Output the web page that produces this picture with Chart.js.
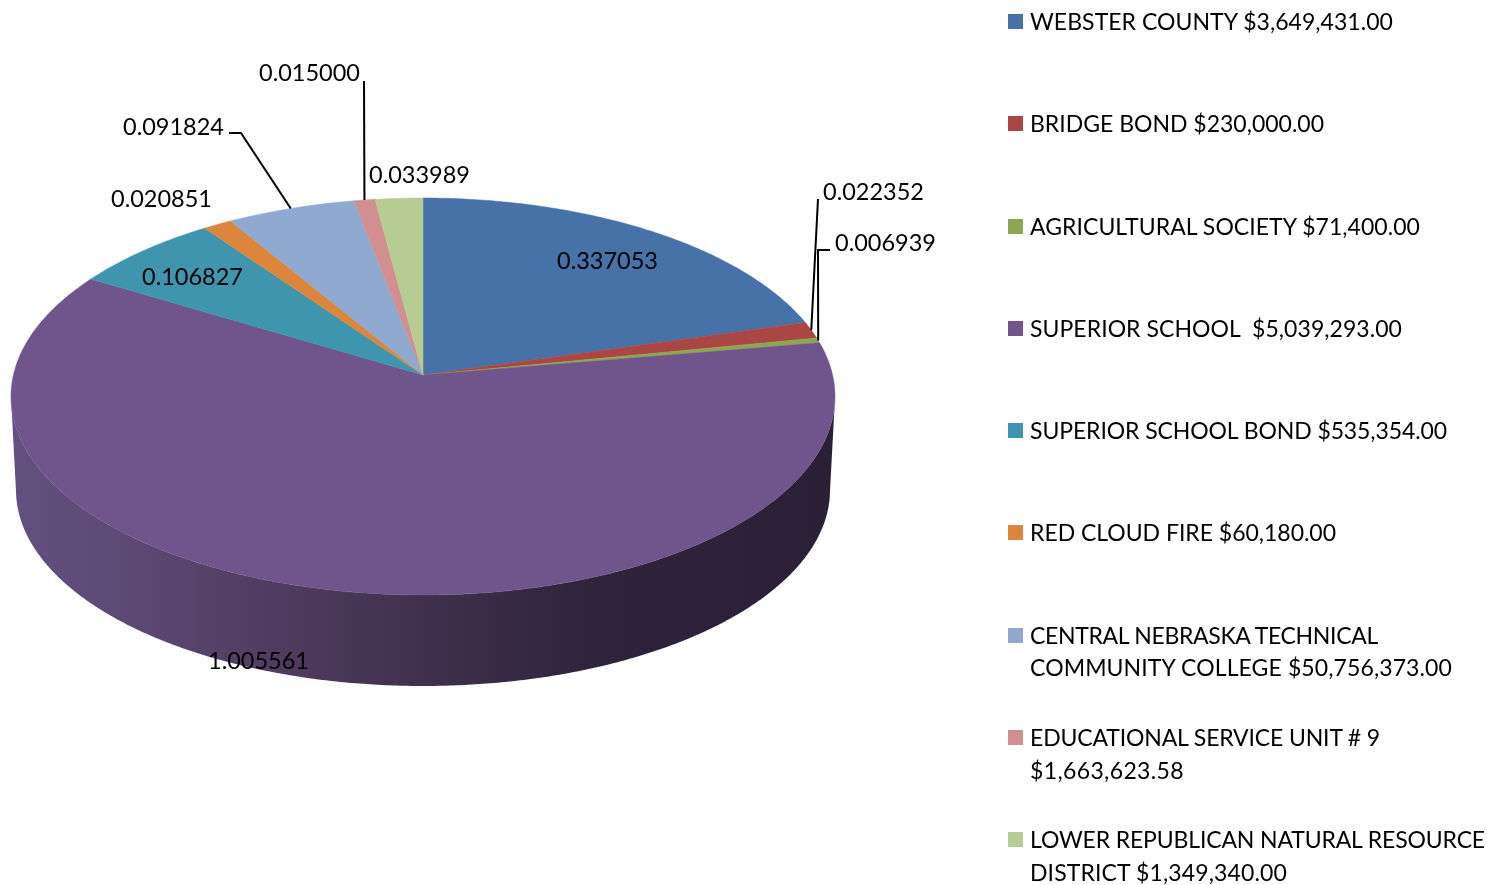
<!DOCTYPE html>
<html>
<head>
<meta charset="utf-8">
<script src="https://cdn.jsdelivr.net/npm/chart.js@4/dist/chart.umd.js"></script>
<style>
html,body{margin:0;padding:0;background:#fff;overflow:hidden}
#wrap{position:relative;width:1487px;height:885px}
canvas{position:absolute;left:0;top:0}
.key{position:absolute;left:1008px;width:15px;height:15px}
.txt{position:absolute;left:1030px;white-space:pre;font:23px Lato,sans-serif;color:#000;line-height:32px}
</style>
</head>
<body>
<div id="wrap"><canvas id="c" width="1487" height="885"></canvas><div id="legend"></div></div>
<script>
// ---- data ----
const categories = [
  ["WEBSTER COUNTY $3,649,431.00"],
  ["BRIDGE BOND $230,000.00"],
  ["AGRICULTURAL SOCIETY $71,400.00"],
  ["SUPERIOR SCHOOL  $5,039,293.00"],
  ["SUPERIOR SCHOOL BOND $535,354.00"],
  ["RED CLOUD FIRE $60,180.00"],
  ["CENTRAL NEBRASKA TECHNICAL","COMMUNITY COLLEGE $50,756,373.00"],
  ["EDUCATIONAL SERVICE UNIT # 9","$1,663,623.58"],
  ["LOWER REPUBLICAN NATURAL RESOURCE","DISTRICT $1,349,340.00"]
];
const values = [0.337053,0.022352,0.006939,1.005561,0.106827,0.020851,0.091824,0.015000,0.033989];
const labelTexts = ["0.337053","0.022352","0.006939","1.005561","0.106827","0.020851","0.091824","0.015000","0.033989"];
const colors = ["#4672a8","#aa4644","#8da650","#70558c","#4095ae","#dc853c","#8fa9d0","#d18f8f","#b7cc92"];

// ---- layout / style ----
const TOP = {cx:423, cy:396.5, rx:412, ry:198.5, apexY:375};
const BOT = {cx:423, cy:490, rx:407, ry:196};
const V0 = (TOP.apexY-TOP.cy)/TOP.ry;
const LEGEND_Y = [[20],[122],[225],[327],[429],[531],[634,666],[736,769],[838,871]];
const LEGEND_KEY_Y = [21,123,226,328,430,532,635,737,839];
const LEGEND_RIGHT = [[1393],[1324],[1420],[1402],[1447],[1336],[1378,1452],[1380,1184],[1485,1287]];
const LEGEND_LEFT = 1030;
const LABEL_POS = [[557,261],[823,192],[835,243],[208,661],[142,277],[111,199],[123,127],[259,73],[369,175]];
const LEADERS = {1:[[818,199]], 2:[[830,250],[818,250]], 6:[[229,133],[241,133]], 7:[[364,81]]};
const SIDE_STOPS = [[0,"#635080"],[0.12,"#5e4a76"],[0.3,"#523d62"],[0.5,"#40304e"],[0.7,"#30243c"],[1,"#2a2036"]];

// The pie's true angle goes through the perspective of the tilted disc to a unit-ellipse point.
function project(a){
  const c=Math.cos(a), s=Math.sin(a), d=1+s*V0;
  return {u:c*Math.sqrt(1-V0*V0)/d, v:(s+V0)/d};
}
function rim(a,e){ const p=project(a); return [e.cx+e.rx*p.u, e.cy+e.ry*p.v]; }

// Top face: the library's arc elements paint themselves in perspective.
Chart.ArcElement.prototype.draw = function(ctx){
  const a0=this.startAngle, a1=this.endAngle, n=Math.max(2,Math.ceil((a1-a0)*90));
  ctx.save();
  ctx.beginPath();
  ctx.moveTo(TOP.cx,TOP.apexY);
  for(let i=0;i<=n;i++){ const q=rim(a0+(a1-a0)*i/n,TOP); ctx.lineTo(q[0],q[1]); }
  ctx.closePath();
  ctx.fillStyle=this.options.backgroundColor;
  ctx.strokeStyle=this.options.backgroundColor;
  ctx.lineWidth=0.5;
  ctx.fill(); ctx.stroke();
  ctx.restore();
};

const pie3d = {
  id:'pie3d',
  beforeDatasetsDraw(chart){
    const ctx=chart.ctx, arcs=chart.getDatasetMeta(0).data;
    const g=ctx.createLinearGradient(TOP.cx-TOP.rx,0,TOP.cx+TOP.rx,0);
    SIDE_STOPS.forEach(s=>g.addColorStop(s[0],s[1]));
    arcs.forEach(el=>{
      const top=[],bot=[],n=Math.ceil((el.endAngle-el.startAngle)*120);
      for(let i=0;i<=n;i++){
        const p=project(el.startAngle+(el.endAngle-el.startAngle)*i/n);
        if(p.v>=0){
          top.push([TOP.cx+TOP.rx*p.u,TOP.cy+TOP.ry*p.v]);
          bot.push([BOT.cx+BOT.rx*p.u,BOT.cy+BOT.ry*p.v]);
        }
      }
      if(!top.length) return;
      ctx.beginPath();
      top.forEach((q,i)=>i?ctx.lineTo(q[0],q[1]):ctx.moveTo(q[0],q[1]));
      bot.reverse().forEach(q=>ctx.lineTo(q[0],q[1]));
      ctx.closePath();
      ctx.fillStyle=g; ctx.fill();
    });
  },
  afterDatasetsDraw(chart){
    const ctx=chart.ctx, arcs=chart.getDatasetMeta(0).data;
    ctx.save();
    ctx.strokeStyle="#000"; ctx.lineWidth=2;
    Object.keys(LEADERS).forEach(k=>{
      const el=arcs[k], end=rim((el.startAngle+el.endAngle)/2,TOP), pts=LEADERS[k];
      ctx.beginPath();
      pts.forEach((q,i)=>i?ctx.lineTo(q[0],q[1]):ctx.moveTo(q[0],q[1]));
      ctx.lineTo(end[0],end[1]);
      ctx.stroke();
    });
    ctx.fillStyle="#000";
    ctx.font="23.5px Lato, sans-serif";
    ctx.textBaseline="middle"; ctx.textAlign="left";
    labelTexts.forEach((t,i)=>ctx.fillText(t,LABEL_POS[i][0],LABEL_POS[i][1]));
    ctx.restore();
  }
};

new Chart(document.getElementById('c'),{
  type:'pie',
  data:{labels:categories.map(l=>l.join(' ')),datasets:[{data:values,backgroundColor:colors,borderWidth:0}]},
  options:{responsive:false,animation:false,events:[],layout:{padding:0},
    plugins:{legend:{display:false},tooltip:{enabled:false},title:{display:false}}},
  plugins:[pie3d]
});

const lg=document.getElementById('legend');
categories.forEach((lines,i)=>{
  const k=document.createElement('div');
  k.className='key'; k.style.top=(LEGEND_KEY_Y[i]-7.5)+'px'; k.style.background=colors[i];
  lg.appendChild(k);
  lines.forEach((t,j)=>{
    const d=document.createElement('div');
    d.className='txt'; d.textContent=t;
    d.style.top=(LEGEND_Y[i][j]-15)+'px';
    lg.appendChild(d);
    const w=d.getBoundingClientRect().width;
    d.style.letterSpacing=((LEGEND_RIGHT[i][j]-LEGEND_LEFT-w)/t.length)+'px';
  });
});
</script>
</body>
</html>
